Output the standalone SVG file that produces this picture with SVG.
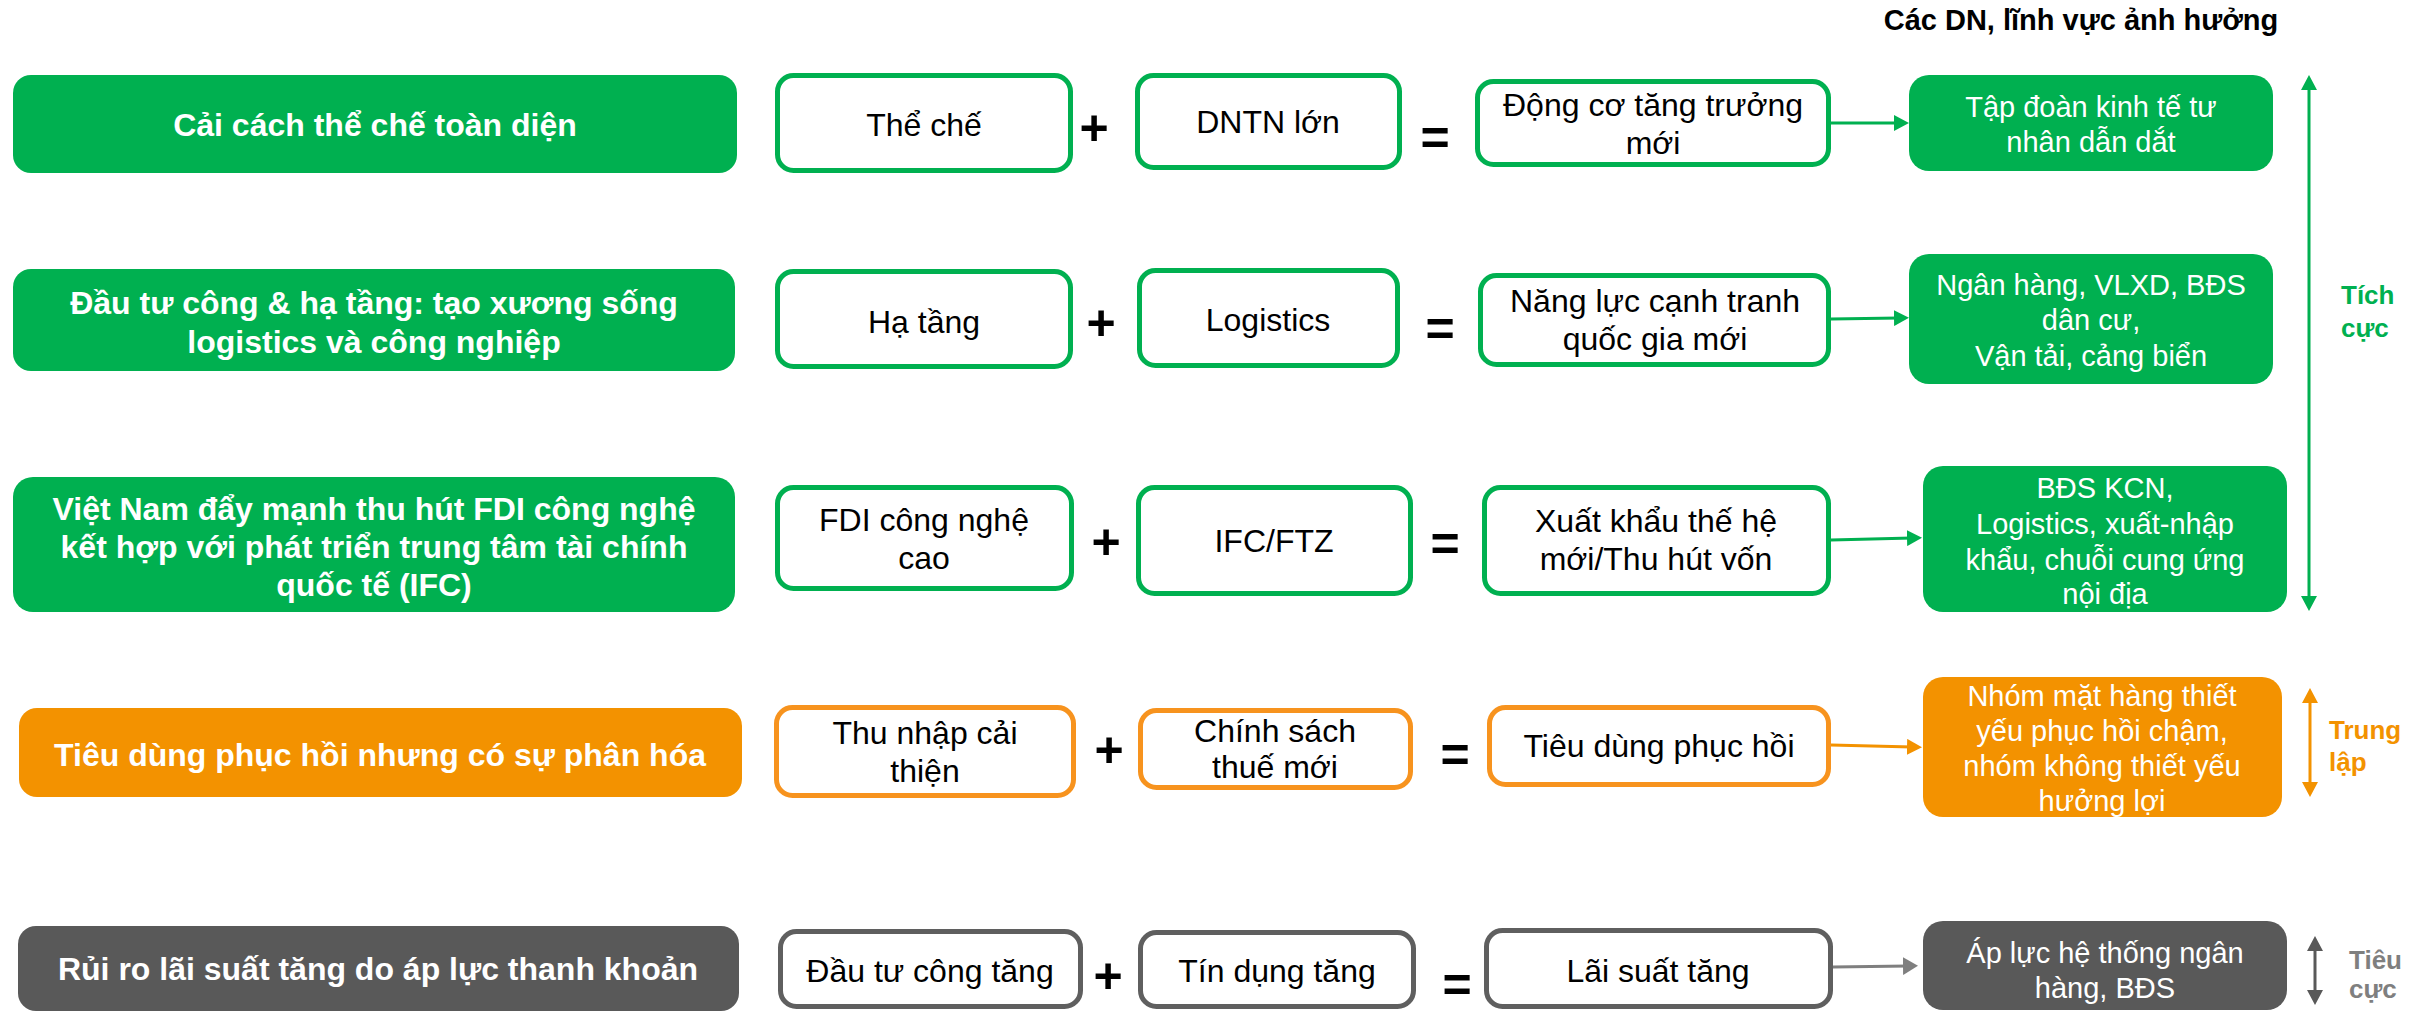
<svg xmlns="http://www.w3.org/2000/svg" width="2419" height="1011" viewBox="0 0 2419 1011">
<style>
  text { font-family: "Liberation Sans", Arial, "Noto Sans", sans-serif; }
  .lt { font-size: 32px; font-weight: bold; fill: #ffffff; text-anchor: middle; }
  .mt { font-size: 32px; fill: #000000; text-anchor: middle; }
  .rt { font-size: 29px; fill: #ffffff; text-anchor: middle; }
  .op { font-size: 50px; font-weight: bold; fill: #000000; text-anchor: middle; }
  .side { font-size: 26px; font-weight: bold; }
  .g { fill: #00B050; }
  .o { fill: #F39200; }
  .k { fill: #595959; }
  .bg { fill: #ffffff; stroke: #00B050; stroke-width: 5; }
  .bo { fill: #ffffff; stroke: #F7931E; stroke-width: 5; }
  .bk { fill: #ffffff; stroke: #5F5F5F; stroke-width: 5; }
</style>
<defs>
  <marker id="ahG" markerUnits="userSpaceOnUse" markerWidth="15" markerHeight="16" refX="5" refY="8" orient="auto-start-reverse"><path d="M0,0 L15,8 L0,16 z" fill="#00B050"/></marker>
  <marker id="ahO" markerUnits="userSpaceOnUse" markerWidth="15" markerHeight="16" refX="5" refY="8" orient="auto-start-reverse"><path d="M0,0 L15,8 L0,16 z" fill="#F39200"/></marker>
  <marker id="ahK" markerUnits="userSpaceOnUse" markerWidth="15" markerHeight="18" refX="5" refY="9" orient="auto-start-reverse"><path d="M0,0 L15,9 L0,18 z" fill="#7F7F7F"/></marker>
  <marker id="ahD" markerUnits="userSpaceOnUse" markerWidth="15" markerHeight="16" refX="5" refY="8" orient="auto-start-reverse"><path d="M0,0 L15,8 L0,16 z" fill="#595959"/></marker>
</defs>

<text x="2081" y="30" style="font-size:29px;font-weight:bold;fill:#000;text-anchor:middle">Các DN, lĩnh vực ảnh hưởng</text>

<!-- Row 1 -->
<g id="l1"><rect class="g" x="13" y="75" width="724" height="98" rx="18"/><text class="lt" x="375" y="136">Cải cách thể chế toàn diện</text></g>
<g id="a1"><rect class="bg" x="777.5" y="75.5" width="293" height="95" rx="16"/><text class="mt" x="924" y="136">Thể chế</text></g>
<g id="p1"><text class="op" x="1094" y="145">+</text></g>
<g id="b1"><rect class="bg" x="1137.5" y="75.5" width="262" height="92" rx="16"/><text class="mt" x="1268" y="133">DNTN lớn</text></g>
<g id="e1"><text class="op" x="1435" y="155">=</text></g>
<g id="c1"><rect class="bg" x="1477.5" y="81.5" width="351" height="83" rx="16"/><text class="mt" x="1653" y="116">Động cơ tăng trưởng<tspan x="1653" y="154">mới</tspan></text></g>
<g id="d1"><rect class="g" x="1909" y="75" width="364" height="96" rx="20"/><text class="rt" x="2091" y="117">Tập đoàn kinh tế tư<tspan x="2091" y="152">nhân dẫn dắt</tspan></text></g>

<!-- Row 2 -->
<g id="l2"><rect class="g" x="13" y="269" width="722" height="102" rx="18"/><text class="lt" x="374" y="314">Đầu tư công &amp; hạ tầng: tạo xương sống<tspan x="374" y="353">logistics và công nghiệp</tspan></text></g>
<g id="a2"><rect class="bg" x="777.5" y="271.5" width="293" height="95" rx="16"/><text class="mt" x="924" y="333">Hạ tầng</text></g>
<g id="p2"><text class="op" x="1101" y="340">+</text></g>
<g id="b2"><rect class="bg" x="1139.5" y="270.5" width="258" height="95" rx="16"/><text class="mt" x="1268" y="331">Logistics</text></g>
<g id="e2"><text class="op" x="1440" y="346">=</text></g>
<g id="c2"><rect class="bg" x="1480.5" y="275.5" width="348" height="89" rx="16"/><text class="mt" x="1655" y="312">Năng lực cạnh tranh<tspan x="1655" y="350">quốc gia mới</tspan></text></g>
<g id="d2"><rect class="g" x="1909" y="254" width="364" height="130" rx="20"/><text class="rt" x="2091" y="295">Ngân hàng, VLXD, BĐS<tspan x="2091" y="330">dân cư,</tspan><tspan x="2091" y="366">Vận tải, cảng biển</tspan></text></g>

<!-- Row 3 -->
<g id="l3"><rect class="g" x="13" y="477" width="722" height="135" rx="20"/><text class="lt" x="374" y="520">Việt Nam đẩy mạnh thu hút FDI công nghệ<tspan x="374" y="558">kết hợp với phát triển trung tâm tài chính</tspan><tspan x="374" y="596">quốc tế (IFC)</tspan></text></g>
<g id="a3"><rect class="bg" x="777.5" y="487.5" width="294" height="101" rx="16"/><text class="mt" x="924" y="531">FDI công nghệ<tspan x="924" y="569">cao</tspan></text></g>
<g id="p3"><text class="op" x="1106" y="559">+</text></g>
<g id="b3"><rect class="bg" x="1138.5" y="487.5" width="272" height="106" rx="16"/><text class="mt" x="1274" y="552">IFC/FTZ</text></g>
<g id="e3"><text class="op" x="1445" y="561">=</text></g>
<g id="c3"><rect class="bg" x="1484.5" y="487.5" width="344" height="106" rx="16"/><text class="mt" x="1656" y="532">Xuất khẩu thế hệ<tspan x="1656" y="570">mới/Thu hút vốn</tspan></text></g>
<g id="d3"><rect class="g" x="1923" y="466" width="364" height="146" rx="20"/><text class="rt" x="2105" y="498">BĐS KCN,<tspan x="2105" y="534">Logistics, xuất-nhập</tspan><tspan x="2105" y="570">khẩu, chuỗi cung ứng</tspan><tspan x="2105" y="604">nội địa</tspan></text></g>

<!-- Row 4 -->
<g id="l4"><rect class="o" x="19" y="708" width="723" height="89" rx="18"/><text class="lt" x="380" y="766">Tiêu dùng phục hồi nhưng có sự phân hóa</text></g>
<g id="a4"><rect class="bo" x="776.5" y="707.5" width="297" height="88" rx="16"/><text class="mt" x="925" y="744">Thu nhập cải<tspan x="925" y="782">thiện</tspan></text></g>
<g id="p4"><text class="op" x="1109" y="767">+</text></g>
<g id="b4"><rect class="bo" x="1140.5" y="710.5" width="270" height="77" rx="16"/><text class="mt" x="1275" y="742">Chính sách<tspan x="1275" y="778">thuế mới</tspan></text></g>
<g id="e4"><text class="op" x="1455" y="772">=</text></g>
<g id="c4"><rect class="bo" x="1489.5" y="707.5" width="339" height="77" rx="16"/><text class="mt" x="1659" y="757">Tiêu dùng phục hồi</text></g>
<g id="d4"><rect class="o" x="1923" y="677" width="359" height="140" rx="20"/><text class="rt" x="2102" y="706">Nhóm mặt hàng thiết<tspan x="2102" y="741">yếu phục hồi chậm,</tspan><tspan x="2102" y="776">nhóm không thiết yếu</tspan><tspan x="2102" y="811">hưởng lợi</tspan></text></g>

<!-- Row 5 -->
<g id="l5"><rect class="k" x="18" y="926" width="721" height="85" rx="18"/><text class="lt" x="378" y="980">Rủi ro lãi suất tăng do áp lực thanh khoản</text></g>
<g id="a5"><rect class="bk" x="780.5" y="931.5" width="300" height="75" rx="16"/><text class="mt" x="930" y="982">Đầu tư công tăng</text></g>
<g id="p5"><text class="op" x="1108" y="993">+</text></g>
<g id="b5"><rect class="bk" x="1140.5" y="932.5" width="273" height="74" rx="16"/><text class="mt" x="1277" y="982">Tín dụng tăng</text></g>
<g id="e5"><text class="op" x="1457" y="1002">=</text></g>
<g id="c5"><rect class="bk" x="1486.5" y="930.5" width="344" height="76" rx="16"/><text class="mt" x="1658" y="982">Lãi suất tăng</text></g>
<g id="d5"><rect class="k" x="1923" y="921" width="364" height="89" rx="20"/><text class="rt" x="2105" y="963">Áp lực hệ thống ngân<tspan x="2105" y="998">hàng, BĐS</tspan></text></g>

<!-- Side labels -->
<g id="s1"><text class="side" x="2341" y="304" fill="#00B050">Tích<tspan x="2341" y="337">cực</tspan></text></g>
<g id="s2"><text class="side" x="2329" y="739" fill="#F39200">Trung<tspan x="2329" y="771">lập</tspan></text></g>
<g id="s3"><text class="side" x="2349" y="969" fill="#7F7F7F">Tiêu<tspan x="2349" y="998">cực</tspan></text></g>

<!-- Connectors -->
<g id="connectors" fill="none" stroke-width="3">
  <path d="M1831,123 L1899,123" stroke="#00B050" marker-end="url(#ahG)"/>
  <path d="M1831,319 L1899,318" stroke="#00B050" marker-end="url(#ahG)"/>
  <path d="M1831,540 L1912,538" stroke="#00B050" marker-end="url(#ahG)"/>
  <path d="M1831,745 L1912,747" stroke="#F39200" marker-end="url(#ahO)"/>
  <path d="M1833,967 L1908,966" stroke="#7F7F7F" marker-end="url(#ahK)"/>
  <path d="M2309,85 L2309,601" stroke="#00B050" marker-start="url(#ahG)" marker-end="url(#ahG)"/>
  <path d="M2310,698 L2310,787" stroke="#F39200" marker-start="url(#ahO)" marker-end="url(#ahO)"/>
  <path d="M2315,946 L2315,995" stroke="#595959" marker-start="url(#ahD)" marker-end="url(#ahD)"/>
</g>
</svg>
